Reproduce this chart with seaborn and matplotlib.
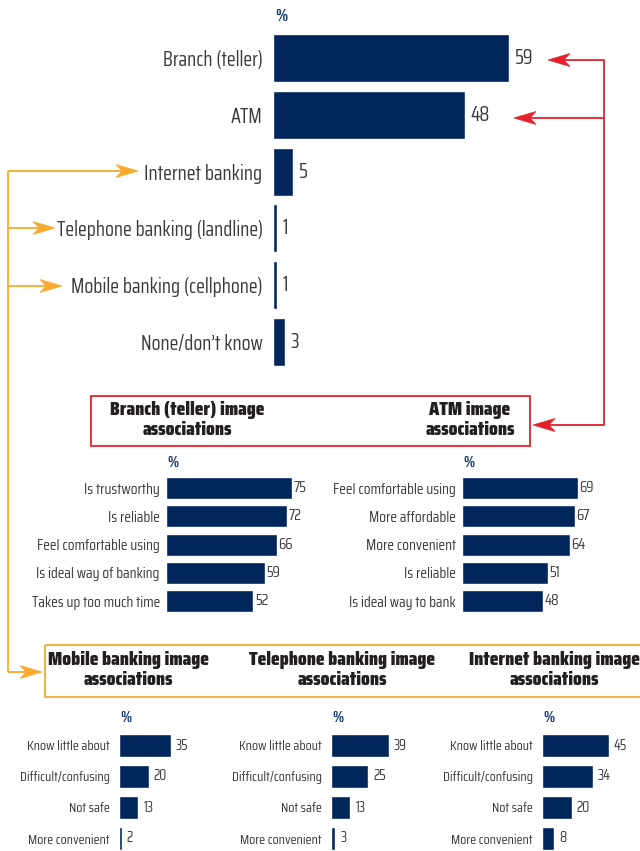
import matplotlib
matplotlib.use("Agg")
import matplotlib.pyplot as plt
import seaborn as sns
import pandas as pd
from matplotlib.patches import Polygon, Rectangle

# ---- data -------------------------------------------------------------
channels = ["Branch (teller)", "ATM", "Internet banking",
            "Telephone banking (landline)", "Mobile banking (cellphone)",
            "None/don\u2019t know"]
channel_pct = [59, 48, 5, 1, 1, 3]

branch_items = ["Is trustworthy", "Is reliable", "Feel comfortable using",
                "Is ideal way of banking", "Takes up too much time"]
branch_pct = [75, 72, 66, 59, 52]

atm_items = ["Feel comfortable using", "More affordable", "More convenient",
             "Is reliable", "Is ideal way to bank"]
atm_pct = [69, 67, 64, 51, 48]

remote_items = ["Know little about", "Difficult/confusing", "Not safe",
                "More convenient"]
mobile_pct = [35, 20, 13, 2]
telephone_pct = [39, 25, 13, 3]
internet_pct = [45, 34, 20, 8]

# ---- style ------------------------------------------------------------
NAVY = "#01265B"
PCT_BLUE = "#1E3C78"
LABEL_GREY = "#3A3A3A"
TITLE_DARK = "#231F20"
RED = "#E5202B"
ORANGE = "#F8AA2E"

sns.set_theme(style="white")
FONT = ["Saira Condensed", "DejaVu Sans"]
plt.rcParams["font.family"] = FONT

W, H = 640, 851
fig = plt.figure(figsize=(W / 100, H / 100), dpi=100)
fig.patch.set_facecolor("white")

# full-figure overlay in pixel units for connectors, boxes and headings
ov = fig.add_axes([0, 0, 1, 1])
ov.set_xlim(0, W)
ov.set_ylim(H, 0)
ov.axis("off")


def px_axes(left, top, width, height):
    return fig.add_axes([left / W, 1 - (top + height) / H, width / W, height / H])


def bar_panel(ax, labels, values, xmax, bar_w, label_fs, value_fs, pad_pt, val_pad):
    df = pd.DataFrame({"item": labels, "pct": values})
    sns.barplot(data=df, x="pct", y="item", orient="h", color=NAVY,
                saturation=1, width=bar_w, ax=ax)
    ax.set_xlim(0, xmax)
    ax.set_xlabel("")
    ax.set_ylabel("")
    ax.set_xticks([])
    for s in ax.spines.values():
        s.set_visible(False)
    ax.tick_params(axis="y", length=0, pad=pad_pt, labelsize=label_fs,
                   labelcolor=LABEL_GREY)
    ax.set_facecolor("none")
    ax.bar_label(ax.containers[0], labels=[str(v) for v in values],
                 padding=val_pad, fontsize=value_fs, color=LABEL_GREY)


def arrow_head(x, y, direction, color, length=22, width=13):
    # notched arrowhead with its tip at (x, y); direction -1 points left, +1 right
    back = x - direction * length
    notch = x - direction * length * 0.72
    pts = [(x, y), (back, y - width / 2), (notch, y), (back, y + width / 2)]
    ov.add_patch(Polygon(pts, closed=True, facecolor=color, edgecolor=color, lw=0.5))


def connector(xs, ys, color, lw=1.3):
    ov.plot(xs, ys, color=color, lw=lw, solid_capstyle="butt")


def heading(x, y, text, ha="center"):
    ov.text(x, y, text, fontsize=14.3, fontweight="black", color=TITLE_DARK,
            ha=ha, va="center", linespacing=1.2)


# ---- main chart: channel usage ---------------------------------------
ax_main = px_axes(273, 29.6, 300, 340.8)
bar_panel(ax_main, channels, channel_pct, 75, 0.845, 14.5, 14.5, 7.5, 4)
ov.text(275, 16, "%", fontsize=12, fontweight="bold", color=PCT_BLUE,
        ha="left", va="center")

# ---- branch / ATM image associations ---------------------------------
ax_branch = px_axes(166, 473.9, 140, 141.25)
bar_panel(ax_branch, branch_items, branch_pct, 140 / 1.68, 0.78, 11, 11, 4.5, 1)
ax_atm = px_axes(462, 473.9, 140, 141.25)
bar_panel(ax_atm, atm_items, atm_pct, 140 / 1.68, 0.78, 11, 11, 4.5, 1)
for x in (166, 462):
    ov.text(x + 1, 463, "%", fontsize=11, fontweight="bold", color=PCT_BLUE,
            ha="left", va="center")

# ---- remote channel image associations --------------------------------
for left, vals in [(119, mobile_pct), (331, telephone_pct), (542, internet_pct)]:
    ax_r = px_axes(left, 730, 90, 124)
    bar_panel(ax_r, remote_items, vals, 90 / 1.49, 0.74, 10, 10.5, 6.5, 3.5)
    ov.text(left + 1, 718, "%", fontsize=11, fontweight="bold", color=PCT_BLUE,
            ha="left", va="center")

# ---- red connectors and box ------------------------------------------
connector([548 + 10, 604, 604, 533 + 10], [60, 60, 425, 425], RED)
connector([604, 514 + 10], [118, 118], RED)
arrow_head(548, 60, -1, RED)
arrow_head(514, 118, -1, RED)
arrow_head(533, 425, -1, RED)
ov.add_patch(Rectangle((91, 396), 439, 50, fill=False, edgecolor=RED, lw=1.3))
heading(187, 420, "Branch (teller) image\nassociations")
heading(470, 420, "ATM image\nassociations")

# ---- orange connectors and box ---------------------------------------
connector([8, 8], [171, 672], ORANGE)
for tip, y in [(138, 171), (55, 228), (62, 286), (42, 672)]:
    connector([8, tip - 10], [y, y], ORANGE)
    arrow_head(tip, y, 1, ORANGE)
ov.add_patch(Rectangle((45, 645), 600, 52, fill=False, edgecolor=ORANGE, lw=1.3))
for cx, title in [(128, "Mobile banking image\nassociations"),
                  (342, "Telephone banking image\nassociations"),
                  (554, "Internet banking image\nassociations")]:
    heading(cx, 670, title)

fig.savefig("out.png", dpi=100, facecolor="white")
